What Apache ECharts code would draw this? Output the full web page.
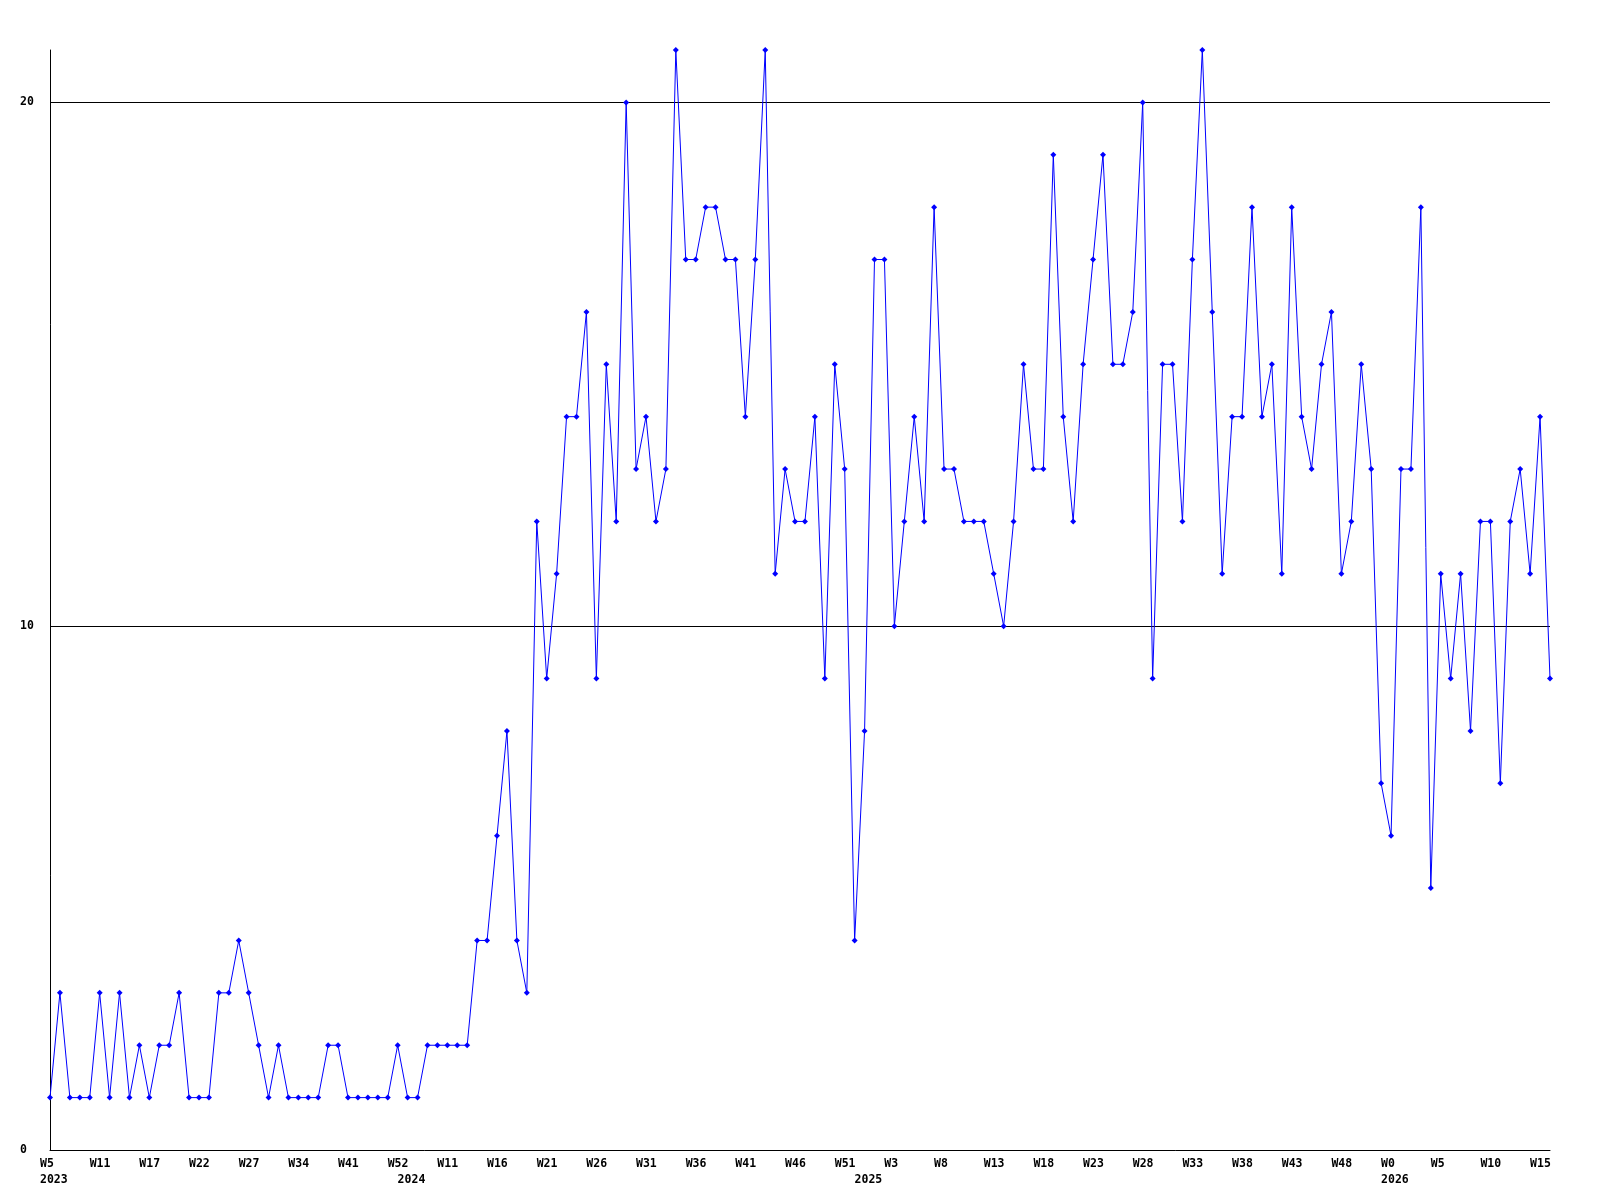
<!DOCTYPE html>
<html>
<head>
<meta charset="utf-8">
<script src="https://cdn.jsdelivr.net/npm/echarts@6/dist/echarts.min.js"></script>
<style>
html,body{margin:0;padding:0;background:#fff;}
#chart{width:1600px;height:1200px;}
</style>
</head>
<body>
<div id="chart"></div>
<script>
// Weekly values, one per point (2023 W5 .. 2026 W16)
const values = [
  1,3,1,1,1,3,1,3,1,2,
  1,2,2,3,1,1,1,3,3,4,
  3,2,1,2,1,1,1,1,2,2,
  1,1,1,1,1,2,1,1,2,2,
  2,2,2,4,4,6,8,4,3,12,
  9,11,14,14,16,9,15,12,20,13,
  14,12,13,21,17,17,18,18,17,17,
  14,17,21,11,13,12,12,14,9,15,
  13,4,8,17,17,10,12,14,12,18,
  13,13,12,12,12,11,10,12,15,13,
  13,19,14,12,15,17,19,15,15,16,
  20,9,15,15,12,17,21,16,11,14,
  14,18,14,15,11,18,14,13,15,16,
  11,12,15,13,7,6,13,13,18,5,
  11,9,11,8,12,12,7,12,13,11,
  14,9
];
// Week tick labels, shown on every 5th point
const weekTickLabels = ['W5','W11','W17','W22','W27','W34','W41','W52','W11','W16',
  'W21','W26','W31','W36','W41','W46','W51','W3','W8','W13',
  'W18','W23','W28','W33','W38','W43','W48','W0','W5','W10','W15'];
// Year labels and the point index where each year starts
const yearLabels = ['2023','2024','2025','2026'];
const yearStartIndex = [0,36,82,135];
const yTickStep = 10;

const categories = values.map((v,i)=>String(i));
const FONT = 'DejaVu Sans Mono';

const chart = echarts.init(document.getElementById('chart'), null, {renderer:'canvas'});
chart.setOption({
  animation:false,
  backgroundColor:'#ffffff',
  grid:[
    {left:50, top:50, width:1500, height:1100},
    {left:40, top:50, width:1500, height:1100}
  ],
  xAxis:[
    {
      gridIndex:0, type:'category', data:categories, boundaryGap:false,
      axisLine:{show:true, lineStyle:{color:'#000', width:1}},
      axisTick:{show:false}, axisLabel:{show:false}, splitLine:{show:false}
    },
    {
      gridIndex:1, type:'category', data:categories, boundaryGap:false,
      axisLine:{show:false}, axisTick:{show:false}, splitLine:{show:false},
      axisLabel:{
        show:true, align:'left', margin:6,
        fontFamily:FONT, fontWeight:'bold', fontSize:11.5, lineHeight:16, color:'#000',
        interval:function(index){ return index%5===0 || yearStartIndex.indexOf(index)>=0; },
        formatter:function(value, index){
          const wk = index%5===0 ? (weekTickLabels[index/5]||'') : '';
          const yi = yearStartIndex.indexOf(index);
          return yi>=0 ? wk + '\n' + yearLabels[yi] : wk;
        }
      }
    }
  ],
  yAxis:[
    {
      gridIndex:0, type:'value', min:0, max:21, interval:yTickStep,
      axisLine:{show:true, lineStyle:{color:'#000', width:1}},
      axisTick:{show:false},
      axisLabel:{
        show:true, align:'left', margin:30, showMaxLabel:false,
        fontFamily:FONT, fontWeight:'bold', fontSize:11.5, color:'#000',
        formatter:function(v){ return v%yTickStep===0 ? String(v) : ''; }
      },
      splitLine:{show:true, showMinLine:false, showMaxLine:false, lineStyle:{color:'#000', width:1}}
    },
    {gridIndex:1, type:'value', min:0, max:21, show:false}
  ],
  series:[{
    type:'line', xAxisIndex:0, yAxisIndex:0, data:values,
    lineStyle:{color:'#0000ff', width:1},
    itemStyle:{color:'#0000ff'},
    symbol:'diamond', symbolSize:6, showSymbol:true,
    clip:false
  }]
});
</script>
</body>
</html>
